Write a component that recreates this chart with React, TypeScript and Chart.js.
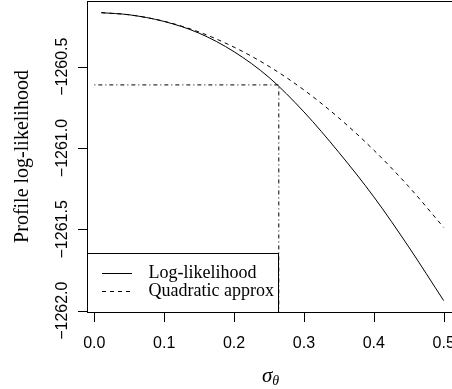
import React, { useEffect, useRef } from "react";
import { Chart, registerables } from "chart.js";

Chart.register(...registerables);

// ---- data ----
const sigma = [0.01, 0.05, 0.1, 0.15, 0.2, 0.25, 0.3, 0.35, 0.4, 0.45, 0.5];
const logLik = [
  -1260.168, -1260.181, -1260.222, -1260.294, -1260.408, -1260.566, -1260.778,
  -1261.027, -1261.3, -1261.608, -1261.938,
];
const quadApprox = [
  -1260.168, -1260.181, -1260.221, -1260.287, -1260.38, -1260.498, -1260.643,
  -1260.815, -1261.013, -1261.237, -1261.488,
];
const cutoffSigma = [0, 0.264, 0.264];
const cutoffLogLik = [-1260.612, -1260.612, -1262.008];

const xTicks = [0, 0.1, 0.2, 0.3, 0.4, 0.5];
const xTickLabels = ["0.0", "0.1", "0.2", "0.3", "0.4", "0.5"];
const yTicks = [-1262, -1261.5, -1261, -1260.5];
const yTickLabels = ["\u22121262.0", "\u22121261.5", "\u22121261.0", "\u22121260.5"];
const legendLabels = ["Log-likelihood", "Quadratic approx"];
const yTitle = "Profile log-likelihood";

const X_MIN = -0.0105;
const X_MAX = 0.5205;
const Y_MIN = -1262.008;
const Y_MAX = -1260.0961;

const CANVAS_W = 470;
const CANVAS_H = 389;

const rPlot = {
  id: "rplot",
  afterDraw(chart: any) {
    const { ctx, chartArea: a, scales } = chart;
    const x = scales.x;
    const y = scales.y;
    ctx.save();
    ctx.strokeStyle = "#000";
    ctx.fillStyle = "#000";
    ctx.lineWidth = 1;
    ctx.setLineDash([]);
    const L = Math.round(a.left);
    const R = Math.round(a.right);
    const T = Math.round(a.top);
    const B = Math.round(a.bottom);
    // box
    ctx.strokeRect(L + 0.5, T + 0.5, R - L, B - T);

    // x axis ticks + labels
    ctx.font = "16px 'Liberation Sans', Arial, sans-serif";
    ctx.textAlign = "center";
    ctx.textBaseline = "middle";
    ctx.beginPath();
    xTicks.forEach((v) => {
      const px = Math.round(x.getPixelForValue(v)) + 0.5;
      ctx.moveTo(px, B);
      ctx.lineTo(px, B + 10);
    });
    ctx.stroke();
    xTicks.forEach((v, i) => {
      const px = x.getPixelForValue(v);
      ctx.fillText(xTickLabels[i], px, 343.5);
    });

    // y axis ticks + labels
    ctx.beginPath();
    yTicks.forEach((v) => {
      const py = Math.round(y.getPixelForValue(v)) + 0.5;
      ctx.moveTo(L, py);
      ctx.lineTo(L - 9, py);
    });
    ctx.stroke();
    yTicks.forEach((v, i) => {
      const py = y.getPixelForValue(v);
      ctx.save();
      ctx.translate(62.5, py);
      ctx.rotate(-Math.PI / 2);
      ctx.fillText(yTickLabels[i], 0, 0);
      ctx.restore();
    });

    // y title
    ctx.save();
    ctx.font = "20px 'Liberation Serif', 'Times New Roman', serif";
    ctx.translate(23, (T + B) / 2);
    ctx.rotate(-Math.PI / 2);
    ctx.textAlign = "center";
    ctx.textBaseline = "middle";
    ctx.fillText(yTitle, 0, 0);
    ctx.restore();

    // x title: sigma_theta
    const cx = (L + R) / 2 - 2;
    ctx.textAlign = "left";
    ctx.textBaseline = "alphabetic";
    ctx.font = "italic 21px 'Liberation Serif', 'Times New Roman', serif";
    const sw = ctx.measureText("\u03c3").width;
    ctx.font = "italic 14px 'Liberation Serif', 'Times New Roman', serif";
    const tw = ctx.measureText("\u03b8").width;
    const sx = cx - (sw + tw) / 2;
    ctx.font = "italic 21px 'Liberation Serif', 'Times New Roman', serif";
    ctx.fillText("\u03c3", sx, 381.5);
    ctx.font = "italic 14px 'Liberation Serif', 'Times New Roman', serif";
    ctx.fillText("\u03b8", sx + sw, 384.5);

    // legend
    const lx0 = L;
    const lx1 = 278;
    const ly0 = 253;
    ctx.strokeRect(lx0 + 0.5, ly0 + 0.5, lx1 - lx0, B - ly0);
    const rows = [273, 291];
    chart.data.datasets.slice(0, 2).forEach((ds: any, i: number) => {
      ctx.save();
      ctx.setLineDash(ds.borderDash || []);
      ctx.lineWidth = 1;
      ctx.strokeStyle = ds.borderColor;
      ctx.beginPath();
      ctx.moveTo(102, rows[i] + 0.5);
      ctx.lineTo(132, rows[i] + 0.5);
      ctx.stroke();
      ctx.restore();
      ctx.font = "18px 'Liberation Serif', 'Times New Roman', serif";
      ctx.textBaseline = "middle";
      ctx.textAlign = "left";
      ctx.fillText(legendLabels[i], 148.5, rows[i]);
    });
    ctx.restore();
  },
};

export default function App() {
  const ref = useRef<HTMLCanvasElement | null>(null);
  useEffect(() => {
    if (!ref.current) return;
    const chart = new Chart(ref.current, {
      type: "line",
      data: {
        datasets: [
          {
            label: legendLabels[0],
            data: sigma.map((s, i) => ({ x: s, y: logLik[i] })),
            borderColor: "#000",
            borderWidth: 1,
            pointRadius: 0,
            cubicInterpolationMode: "monotone",
            fill: false,
          },
          {
            label: legendLabels[1],
            data: sigma.map((s, i) => ({ x: s, y: quadApprox[i] })),
            borderColor: "#000",
            borderWidth: 1,
            borderDash: [4, 4],
            pointRadius: 0,
            cubicInterpolationMode: "monotone",
            fill: false,
          },
          {
            label: "cutoff",
            data: cutoffSigma.map((s, i) => ({ x: s, y: cutoffLogLik[i] })),
            borderColor: "#000",
            borderWidth: 1,
            borderDash: [1, 3, 4, 3],
            pointRadius: 0,
            tension: 0,
            fill: false,
          },
        ],
      },
      options: {
        responsive: false,
        animation: false,
        events: [],
        layout: { padding: { left: 87, right: CANVAS_W - 458, top: 1, bottom: CANVAS_H - 312 } },
        plugins: { legend: { display: false }, tooltip: { enabled: false }, title: { display: false } },
        scales: {
          x: { type: "linear", display: false, min: X_MIN, max: X_MAX },
          y: { type: "linear", display: false, min: Y_MIN, max: Y_MAX },
        },
      },
      plugins: [rPlot],
    });
    return () => chart.destroy();
  }, []);
  return (
    <canvas
      ref={ref}
      width={CANVAS_W}
      height={CANVAS_H}
      style={{ position: "fixed", left: 0, top: 0, width: CANVAS_W, height: CANVAS_H, background: "#fff" }}
    />
  );
}
